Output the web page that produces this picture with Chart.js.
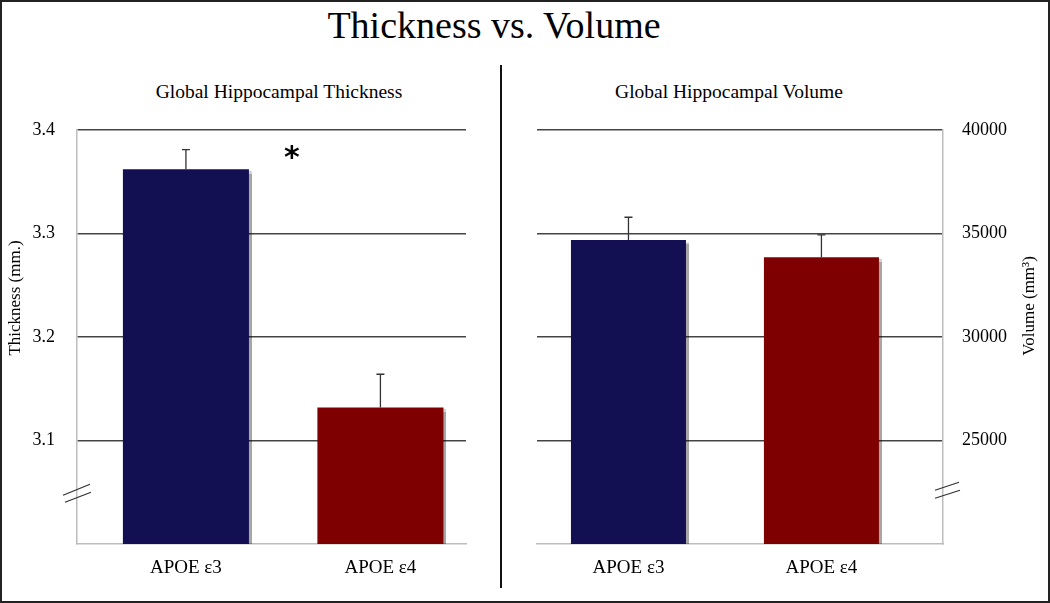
<!DOCTYPE html>
<html>
<head>
<meta charset="utf-8">
<script src="https://cdn.jsdelivr.net/npm/chart.js@4.4.0/dist/chart.umd.min.js"></script>
<style>
  html, body { margin: 0; padding: 0; background: #fff; }
  #frame { position: relative; width: 1050px; height: 603px; overflow: hidden; font-family: "Liberation Serif", serif; color: #000; }
  #border { position: absolute; left: 0; top: 0; right: 0; bottom: 0; border: 2px solid #222; pointer-events: none; }
  .txt { position: absolute; white-space: nowrap; text-align: center; }
  #title { left: 0; width: 988px; top: 6px; font-size: 38px; line-height: 38px; }
  #sub1 { left: 79px; width: 400px; top: 82px; font-size: 19.5px; line-height: 19px; }
  #sub2 { left: 529px; width: 400px; top: 82px; font-size: 19.5px; line-height: 19px; }
  #divider { position: absolute; left: 500px; top: 65px; width: 2px; height: 523px; background: #111; }
  canvas { position: absolute; top: 0; }
  #thickChart { left: 0; }
  #volChart { left: 500px; }
</style>
</head>
<body>
<div id="frame">
  <div class="txt" id="title">Thickness vs. Volume</div>
  <div class="txt" id="sub1">Global Hippocampal Thickness</div>
  <div class="txt" id="sub2">Global Hippocampal Volume</div>
  <canvas id="thickChart" width="480" height="603"></canvas>
  <canvas id="volChart" width="550" height="603"></canvas>
  <div id="divider"></div>
  <div id="border"></div>
</div>
<script>
const categories = ['APOE ε3', 'APOE ε4'];
const barColors = ['#121052', '#7f0000'];

const thickness = [3.362, 3.132];
const thicknessErr = [0.019, 0.032];
const thicknessTicks = [3.1, 3.2, 3.3, 3.4];

const volume = [34690, 33850];
const volumeErr = [1095, 1080];
const volumeTicks = [25000, 30000, 35000, 40000];

const serif = '"Liberation Serif", serif';

// soft grey shadow on the right side of the bars
const barShadow = {
    id: 'barShadow',
    beforeDatasetsDraw(chart) {
        const c = chart.ctx;
        c.save();
        c.shadowColor = 'rgba(0,0,0,0.35)';
        c.shadowOffsetX = 3;
        c.shadowOffsetY = 2;
        c.shadowBlur = 1;
    },
    afterDatasetsDraw(chart) {
        chart.ctx.restore();
    },
};

// upper error whiskers
const errorBars = {
    id: 'errorBars',
    afterDatasetsDraw(chart, args, opts) {
        const { ctx, scales: { y } } = chart;
        const meta = chart.getDatasetMeta(0);
        const data = chart.data.datasets[0].data;
        ctx.save();
        ctx.strokeStyle = '#333';
        ctx.lineWidth = 1.3;
        meta.data.forEach((bar, i) => {
            const top = y.getPixelForValue(data[i].y + opts.errors[i]);
            ctx.beginPath();
            ctx.moveTo(bar.x, bar.y);
            ctx.lineTo(bar.x, top);
            ctx.moveTo(bar.x - 4, top);
            ctx.lineTo(bar.x + 4, top);
            ctx.stroke();
        });
        ctx.restore();
    },
};

// axis title, axis-break marks and the significance star
const decor = {
    id: 'decor',
    afterDraw(chart, args, opts) {
        const { ctx, chartArea, scales: { x, y } } = chart;
        ctx.save();
        ctx.fillStyle = '#000';
        ctx.font = '17px ' + serif;
        ctx.textAlign = 'center';
        ctx.textBaseline = 'middle';
        ctx.translate(opts.titleX, opts.titleY);
        ctx.rotate(-Math.PI / 2);
        ctx.fillText(opts.title, 0, 0);
        ctx.restore();

        const bx = opts.breakSide === 'left' ? chartArea.left : chartArea.right;
        const by = y.getPixelForValue(opts.breakValue);
        const d = opts.breakSide === 'left' ? [-14, 3, 13, -8, -12, 10, 14, 0] : [-8, -2, 16, -10, -8, 6, 17, -2];
        ctx.save();
        ctx.strokeStyle = '#333';
        ctx.lineWidth = 1.3;
        ctx.beginPath();
        ctx.moveTo(bx + d[0], by + d[1]);
        ctx.lineTo(bx + d[2], by + d[3]);
        ctx.moveTo(bx + d[4], by + d[5]);
        ctx.lineTo(bx + d[6], by + d[7]);
        ctx.stroke();
        ctx.restore();

        if (opts.star) {
            ctx.save();
            ctx.fillStyle = '#000';
            ctx.font = 'bold 30px "DejaVu Sans", sans-serif';
            ctx.textAlign = 'center';
            ctx.textBaseline = 'middle';
            ctx.fillText('*', x.getPixelForValue(opts.star[0]), y.getPixelForValue(opts.star[1]));
            ctx.restore();
        }
    },
};

function makeChart(el, values, errors, ticks, cfg) {
    return new Chart(document.getElementById(el), {
        type: 'bar',
        data: {
            datasets: [{
                data: values.map((v, i) => ({ x: i, y: v })),
                backgroundColor: barColors,
                borderWidth: 0,
                categoryPercentage: 0.8,
                barPercentage: cfg.barPct,
            }],
        },
        options: {
            responsive: false,
            animation: false,
            layout: { padding: cfg.padding },
            plugins: {
                legend: { display: false },
                tooltip: { enabled: false },
                errorBars: { errors: errors },
                decor: cfg.decor,
            },
            scales: {
                x: {
                    type: 'linear',
                    offset: false,
                    min: cfg.xMin,
                    max: cfg.xMax,
                    afterBuildTicks: (s) => { s.ticks = categories.map((c, i) => ({ value: i })); },
                    afterFit: (s) => { s.height = 59; },
                    grid: { display: false, drawTicks: false, offset: false },
                    border: { display: true, color: '#bdbdbd', width: 1.5 },
                    ticks: {
                        padding: 13,
                        color: '#000',
                        font: { family: serif, size: 19 },
                        callback: (v) => categories[v] || '',
                    },
                },
                y: {
                    position: cfg.yPos,
                    min: cfg.yMin,
                    max: cfg.yMax,
                    afterBuildTicks: (s) => { s.ticks = ticks.map((v) => ({ value: v })); },
                    afterFit: (s) => { s.width = cfg.yWidth; },
                    grid: { color: '#444', lineWidth: 1.4, drawTicks: false },
                    border: { display: true, color: '#bdbdbd', width: 1.5 },
                    ticks: {
                        padding: cfg.tickPad,
                        color: '#000',
                        font: { family: serif, size: 18 },
                        callback: cfg.fmt,
                    },
                },
            },
        },
        plugins: [barShadow, errorBars, decor],
    });
}

makeChart('thickChart', thickness, thicknessErr, thicknessTicks, {
    barPct: 0.81,
    padding: { top: 130, right: 14, left: 0, bottom: 0 },
    xMin: -0.56, xMax: 1.44,
    yPos: 'left', yMin: 3.0, yMax: 3.4, yWidth: 77, tickPad: 22,
    fmt: (v) => v.toFixed(1),
    decor: { title: 'Thickness (mm.)', titleX: 16, titleY: 298, breakSide: 'left', breakValue: 3.05, star: [0.545, 3.372] },
});

makeChart('volChart', volume, volumeErr, volumeTicks, {
    barPct: 0.745,
    padding: { top: 130, right: 0, left: 37, bottom: 0 },
    xMin: -0.474, xMax: 1.63,
    yPos: 'right', yMin: 20000, yMax: 40000, yWidth: 107, tickPad: 19,
    fmt: (v) => String(v),
    decor: { title: 'Volume (mm³)', titleX: 530, titleY: 306, breakSide: 'right', breakValue: 22500, star: null },
});
</script>
</body>
</html>
